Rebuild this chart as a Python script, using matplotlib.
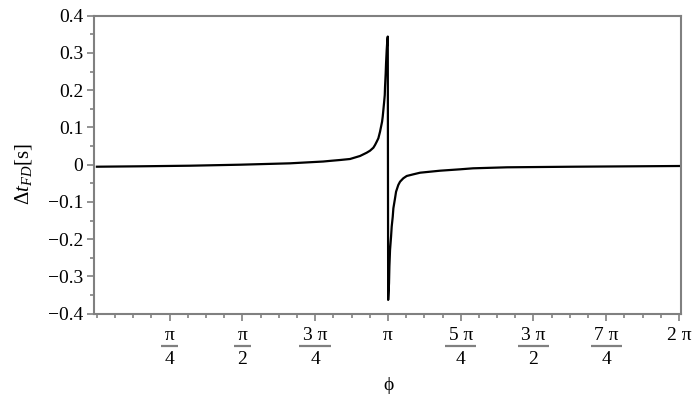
import numpy as np
import matplotlib
matplotlib.use("Agg")
import matplotlib.pyplot as plt
from matplotlib.ticker import FixedLocator, MultipleLocator

plt.rcParams['font.family'] = ['Liberation Serif', 'DejaVu Serif']
plt.rcParams['mathtext.fontset'] = 'custom'
plt.rcParams['mathtext.rm'] = 'Liberation Serif'
plt.rcParams['mathtext.it'] = 'Liberation Serif:italic'

# values (phi in rad, delta t in s)
phi = [0.0, 0.465, 1.005, 1.545, 2.084, 2.441, 2.527, 2.624, 2.732, 2.840, 2.912,
       2.948, 2.984, 3.002, 3.020, 3.038, 3.056, 3.067, 3.078, 3.085, 3.092,
       3.099, 3.107, 3.110, 3.117, 3.121, 3.128, 3.135, 3.1395,
       3.1437, 3.153, 3.157, 3.164, 3.175, 3.182, 3.193, 3.200, 3.218, 3.229,
       3.253, 3.272, 3.307, 3.344, 3.416, 3.488, 3.596, 3.704, 3.919, 4.060,
       4.426, 5.139, 6.283]
dt = [-0.0054, -0.0043, -0.0027, 0.0, 0.0037, 0.0085, 0.0105, 0.0126, 0.0153, 0.0234, 0.0322,
      0.0376, 0.0456, 0.0529, 0.0617, 0.0709, 0.0886, 0.102, 0.1154, 0.129, 0.147,
      0.165, 0.187, 0.209, 0.245, 0.272, 0.308, 0.335, 0.344,
      -0.363, -0.318, -0.274, -0.229, -0.193, -0.166, -0.140, -0.117, -0.090, -0.0725,
      -0.0545, -0.0456, -0.0365, -0.0303, -0.0258, -0.0215, -0.0188, -0.0161, -0.0124, -0.0097,
      -0.007, -0.0054, -0.0035]

xtick_vals = [np.pi / 4, np.pi / 2, 3 * np.pi / 4, np.pi,
              5 * np.pi / 4, 3 * np.pi / 2, 7 * np.pi / 4, 2 * np.pi]
# (numerator, denominator); None means a plain label
xtick_labels = [('\u03c0', '4'), ('\u03c0', '2'), ('3 \u03c0', '4'), ('\u03c0', None),
                ('5 \u03c0', '4'), ('3 \u03c0', '2'), ('7 \u03c0', '4'), ('2 \u03c0', None)]
ytick_vals = [-0.4, -0.3, -0.2, -0.1, 0.0, 0.1, 0.2, 0.3, 0.4]
ytick_labels = ['\u22120.4', '\u22120.3', '\u22120.2', '\u22120.1', '0',
                '0.1', '0.2', '0.3', '0.4']

fig = plt.figure(figsize=(7, 4), dpi=100)
W, H = 700, 400
ax = fig.add_axes([94.3 / W, 1 - 313.7 / H, (680.7 - 94.3) / W, (313.7 - 15.7) / H])

ax.plot(phi, dt, color='black', linewidth=1.6)

ax.set_xlim(-0.028, 2 * np.pi + 0.018)
ax.set_ylim(-0.4, 0.4)

gray = '#808080'
for s in ax.spines.values():
    s.set_color(gray)
    s.set_linewidth(1.5)

ax.xaxis.set_major_locator(FixedLocator(xtick_vals))
ax.set_xticklabels([])
ax.xaxis.set_minor_locator(MultipleLocator(np.pi / 16))
ax.yaxis.set_major_locator(FixedLocator(ytick_vals))
ax.set_yticklabels(ytick_labels)
ax.yaxis.set_minor_locator(MultipleLocator(0.05))

ax.tick_params(which='both', direction='out', color=gray, width=1.2,
               top=False, right=False, labelsize=14)
ax.tick_params(which='major', length=5)
ax.tick_params(which='minor', length=3)
ax.tick_params(axis='y', pad=3)

# stacked fraction tick labels, Maple style
trans = ax.get_xaxis_transform()
renderer = fig.canvas.get_renderer()
ax_h = 298.0
for xv, (num, den) in zip(xtick_vals, xtick_labels):
    t = ax.text(xv, -(335.5 - 313.7) / ax_h, num, transform=trans, ha='center',
                va='center', fontsize=14, clip_on=False)
    if den is None:
        continue
    ax.text(xv, -(359.5 - 313.7) / ax_h, den, transform=trans, ha='center',
            va='center', fontsize=14, clip_on=False)
    w = t.get_window_extent(renderer).width + 7
    half = w / 2 / 92.64
    ax.plot([xv - half, xv + half], [-(345.5 - 313.7) / ax_h] * 2, transform=trans,
            color=gray, linewidth=1.6, clip_on=False, solid_capstyle='butt')

fig.text(24 / W, 1 - 174 / H, r'$\mathit{\Delta t}_{\mathit{FD}}$[s]',
         rotation=90, ha='center', va='center', fontsize=15)
fig.text(388 / W, 1 - 386 / H, '\u03d5', ha='center', va='center', fontsize=14)

fig.savefig('out.png', dpi=100)
